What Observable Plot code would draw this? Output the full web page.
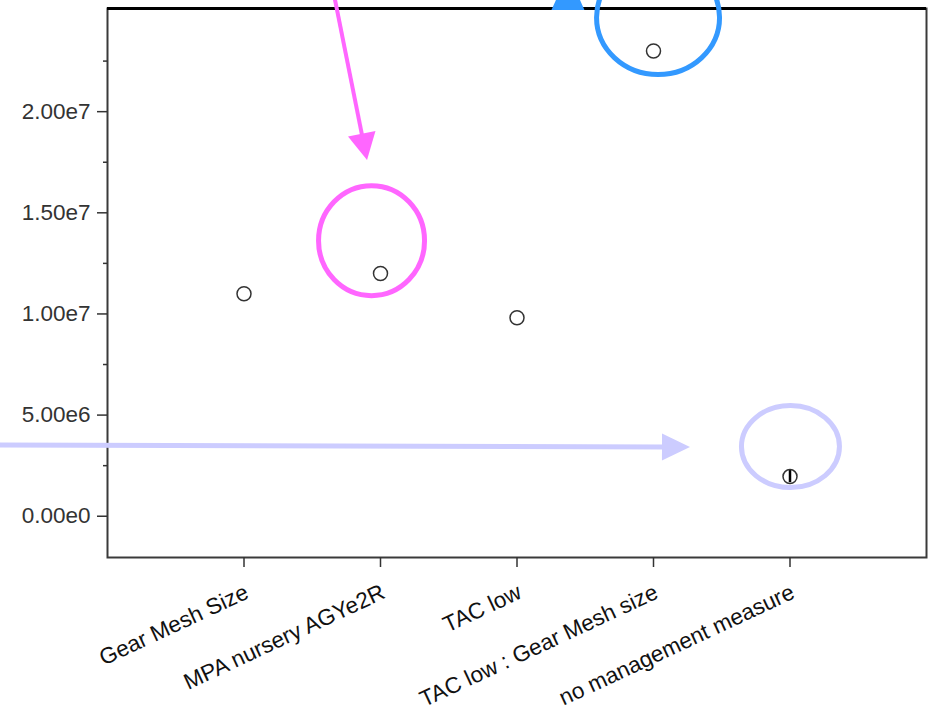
<!DOCTYPE html>
<html>
<head>
<meta charset="utf-8">
<script src="https://cdn.jsdelivr.net/npm/d3@7"></script>
<script src="https://cdn.jsdelivr.net/npm/@observablehq/plot@0.6"></script>
<style>
  html, body { margin: 0; padding: 0; background: #fff; }
  #chart { width: 928px; height: 709px; overflow: hidden; }
</style>
</head>
<body>
<div id="chart"></div>
<script>
// ---- data ----
const categories = ["Gear Mesh Size", "MPA nursery AGYe2R", "TAC low", "TAC low : Gear Mesh size", "no management measure"];
const estimates  = [1.10e7, 1.20e7, 9.81e6, 2.30e7, 1.96e6];
const lowerCI    = [null, null, null, null, 1.66e6];
const upperCI    = [null, null, null, null, 2.26e6];

const yTicks      = [0, 5e6, 1e7, 1.5e7, 2e7];
const yTickLabels = ["0.00e0", "5.00e6", "1.00e7", "1.50e7", "2.00e7"];
const yMinorTicks = [2.5e6, 7.5e6, 1.25e7, 1.75e7, 2.25e7];
const yDomain     = [-2.04e6, 2.51e7];
const xDomain     = [0, categories.length + 1];

// annotation anchors (in data units: x = category position, y = value)
const ringSpots = [
  {x: 1.938, y: 1.360e7, rx: 53, ry: 55, color: "#ff66ff"},
  {x: 4.037, y: 2.463e7, rx: 61.5, ry: 57, color: "#3399ff"},
  {x: 5.007, y: 3.42e6, rx: 49, ry: 41, color: "#ccccff"}
];
const arrowSpots = [
  {x1: 1.656, y1: 2.599e7, x2: 1.905, y2: 1.758e7, head: 27, width: 28, shaft: true, color: "#ff66ff"},
  {x1: -0.857, y1: 3.495e6, x2: 4.271, y2: 3.396e6, head: 28, width: 27, shaft: true, color: "#ccccff"},
  {x1: 3.377, y1: 2.4998e7, x2: 3.377, y2: 2.6827e7, head: 37, width: 33, shaft: false, color: "#3399ff"}
];

const rows = categories.map((c, i) => ({pos: i + 1, name: c, est: estimates[i], lo: lowerCI[i], hi: upperCI[i]}));

function annotations(index, scales) {
  const {x, y} = scales;
  const g = d3.create("svg:g");
  for (const c of ringSpots) {
    g.append("ellipse")
      .attr("cx", x(c.x)).attr("cy", y(c.y))
      .attr("rx", c.rx).attr("ry", c.ry)
      .attr("fill", "none").attr("stroke", c.color).attr("stroke-width", 5);
  }
  for (const a of arrowSpots) {
    const x1 = x(a.x1), y1 = y(a.y1), x2 = x(a.x2), y2 = y(a.y2);
    const dx = x2 - x1, dy = y2 - y1, L = Math.hypot(dx, dy);
    const ux = dx / L, uy = dy / L;
    const bx = x2 - ux * a.head, by = y2 - uy * a.head;
    if (a.shaft) {
      g.append("line")
        .attr("x1", x1).attr("y1", y1)
        .attr("x2", bx + ux * 2).attr("y2", by + uy * 2)
        .attr("stroke", a.color).attr("stroke-width", a.color === "#ccccff" ? 5 : 4);
    }
    const w = a.width / 2;
    g.append("polygon")
      .attr("points", `${x2},${y2} ${bx - uy * w},${by + ux * w} ${bx + uy * w},${by - ux * w}`)
      .attr("fill", a.color);
  }
  return g.node();
}

const chart = Plot.plot({
  width: 928,
  height: 709,
  marginTop: 8,
  marginBottom: 152,
  marginLeft: 107,
  marginRight: 2,
  style: {fontFamily: "'Liberation Sans', Arial, sans-serif", fontSize: "22.5px", background: "#fff", overflow: "visible"},
  x: {domain: xDomain, axis: null},
  y: {domain: yDomain, axis: null},
  marks: [
    Plot.frame({stroke: "#3a3a3a", strokeWidth: 2}),
    Plot.ruleY([yDomain[1]], {stroke: "#000", strokeWidth: 3}),
    Plot.axisY({ticks: yTicks, tickFormat: (d, i) => yTickLabels[i], tickSize: 10, tickPadding: 7, fontSize: 22.5, color: "#333", label: null, strokeWidth: 1.5}),
    Plot.axisY({ticks: yMinorTicks, tickFormat: () => "", tickSize: 4, color: "#333", label: null, strokeWidth: 1.5}),
    Plot.axisX({ticks: rows.map(d => d.pos), tickFormat: () => "", tickSize: 10, color: "#333", label: null, strokeWidth: 1.5}),
    Plot.text(rows, {x: "pos", frameAnchor: "bottom", text: "name", rotate: -25, textAnchor: "end", lineAnchor: "bottom", dx: 6, dy: 40, fontSize: 22.5, fill: "#111"}),
    Plot.ruleX(rows.filter(d => d.lo != null), {x: "pos", y1: "lo", y2: "hi", stroke: "#000", strokeWidth: 2.5}),
    Plot.dot(rows, {x: "pos", y: "est", r: 7, stroke: "#333", strokeWidth: 1.5, fill: "none"}),
    annotations
  ]
});
document.getElementById("chart").append(chart);
</script>
</body>
</html>
